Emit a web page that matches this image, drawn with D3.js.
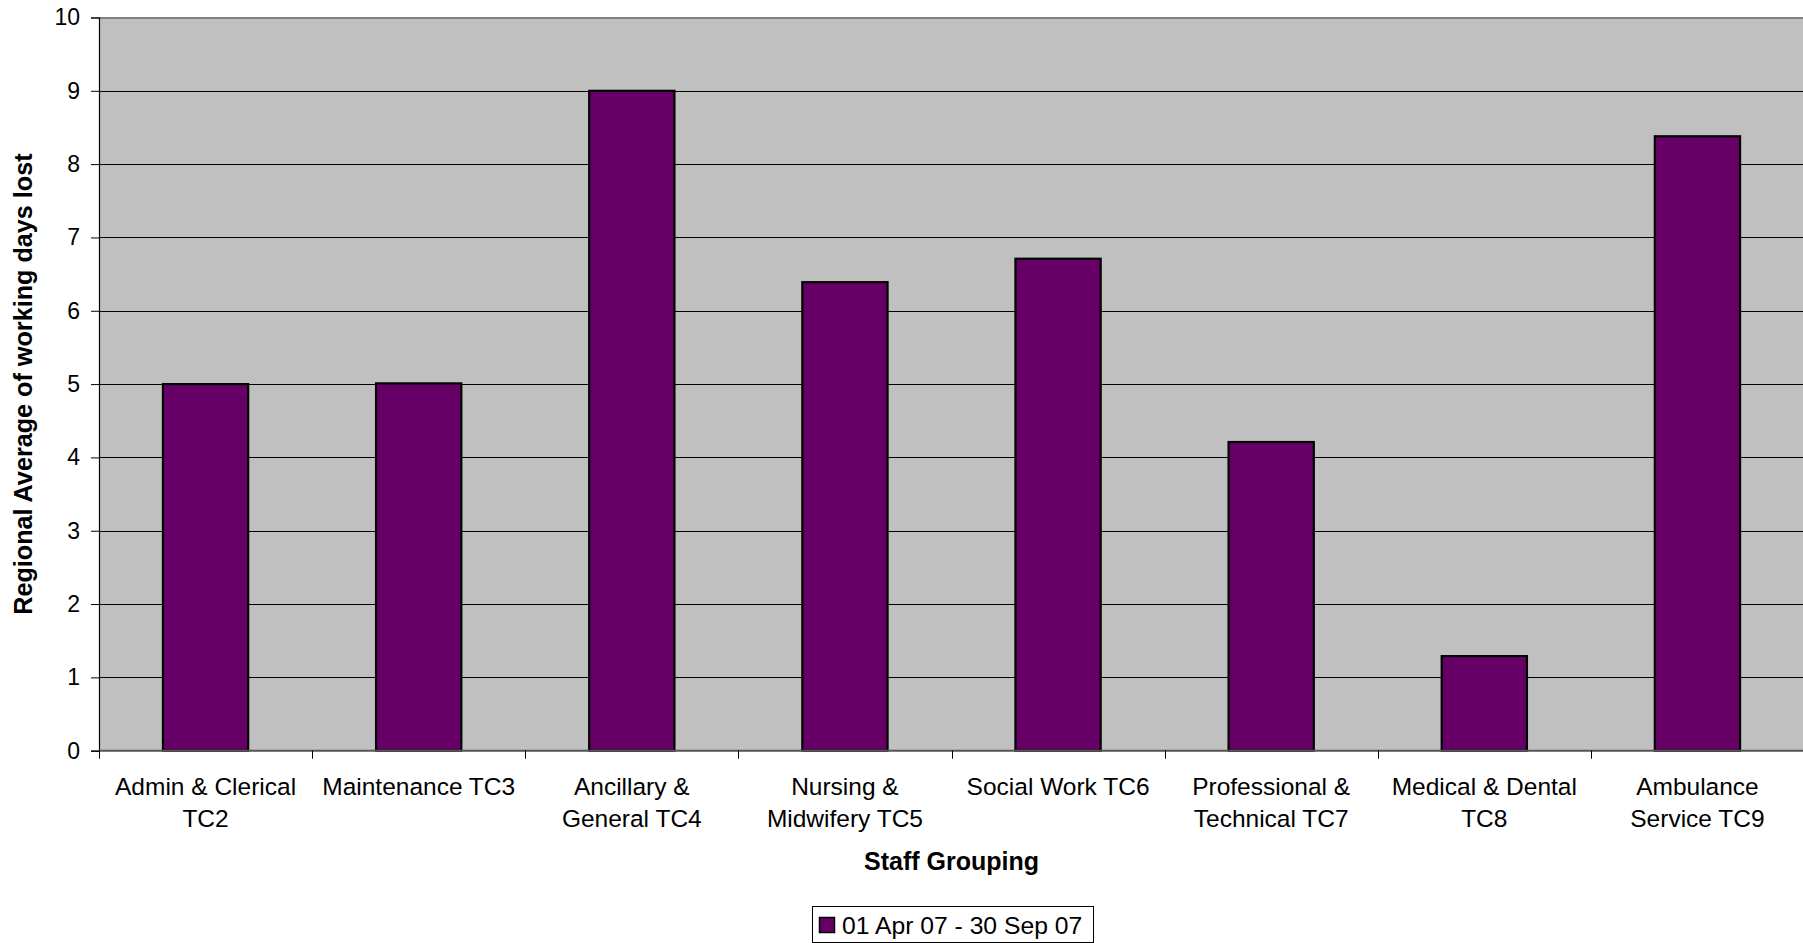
<!DOCTYPE html>
<html>
<head>
<meta charset="utf-8">
<script src="https://cdn.jsdelivr.net/npm/d3@7"></script>
<style>
  html, body { margin: 0; padding: 0; background: #ffffff; }
  svg { display: block; font-family: "Liberation Sans", Arial, sans-serif; }
</style>
</head>
<body>
<svg id="chart" width="1803" height="943"></svg>
<script>
// ---- data ----
const categories = [
  "Admin & Clerical\nTC2",
  "Maintenance TC3",
  "Ancillary &\nGeneral TC4",
  "Nursing &\nMidwifery TC5",
  "Social Work TC6",
  "Professional &\nTechnical TC7",
  "Medical & Dental\nTC8",
  "Ambulance\nService TC9"
];
const values = [5.0, 5.01, 9.0, 6.39, 6.71, 4.21, 1.29, 8.38];
const yTicks = [0, 1, 2, 3, 4, 5, 6, 7, 8, 9, 10];
const seriesName = "01 Apr 07 - 30 Sep 07";
const xTitle = "Staff Grouping";
const yTitle = "Regional Average of working days lost";

// ---- layout ----
const svg = d3.select("#chart");
const plot = { left: 99, right: 1804, top: 17.5, bottom: 750.7 };
const barColor = "#660066";

const x = d3.scaleBand()
  .domain(categories)
  .range([plot.left, plot.right])
  .paddingInner(0.6)
  .paddingOuter(0.3);

const y = d3.scaleLinear().domain([0, 10]).range([plot.bottom, plot.top]);

// plot background
svg.append("rect")
  .attr("x", plot.left).attr("y", plot.top)
  .attr("width", plot.right - plot.left).attr("height", plot.bottom - plot.top)
  .attr("fill", "#c0c0c0");

// gridlines
svg.append("g")
  .selectAll("line")
  .data(yTicks.filter(d => d > 0 && d < 10))
  .join("line")
  .attr("x1", plot.left).attr("x2", plot.right)
  .attr("y1", d => Math.round(y(d)) + 0.5).attr("y2", d => Math.round(y(d)) + 0.5)
  .attr("stroke", "#000").attr("stroke-width", 1);

// top border
svg.append("line")
  .attr("x1", plot.left).attr("x2", plot.right)
  .attr("y1", plot.top + 0.5).attr("y2", plot.top + 0.5)
  .attr("stroke", "#808080").attr("stroke-width", 2);

// bars
svg.append("g")
  .selectAll("rect")
  .data(categories.map((c, i) => ({ c, v: values[i] })))
  .join("rect")
  .attr("x", d => x(d.c))
  .attr("y", d => y(d.v))
  .attr("width", x.bandwidth())
  .attr("height", d => y(0) - y(d.v))
  .attr("fill", barColor)
  .attr("stroke", "#000")
  .attr("stroke-width", 2.2);

// y axis
const yAxis = d3.axisLeft(y).tickValues(yTicks).tickSize(8).tickPadding(11).tickFormat(d3.format("d"));
const gy = svg.append("g").attr("transform", `translate(${plot.left},0)`).call(yAxis);
gy.select(".domain").attr("stroke", "#000").attr("stroke-width", 1.2);
gy.selectAll(".tick line").attr("stroke", "#000").attr("stroke-width", 1);
gy.selectAll(".tick text")
  .attr("font-size", 23)
  .attr("font-family", "'Liberation Sans', Arial, sans-serif")
  .attr("fill", "#000");

// x axis (baseline + boundary ticks)
const step = x.step();
const boundaries = d3.range(categories.length).map(i => x(categories[i]) - x.paddingOuter() * step);
svg.append("line")
  .attr("x1", plot.left).attr("x2", plot.right)
  .attr("y1", plot.bottom).attr("y2", plot.bottom)
  .attr("stroke", "#555").attr("stroke-width", 2);
svg.append("g")
  .selectAll("line")
  .data(boundaries)
  .join("line")
  .attr("x1", d => Math.round(d) + 0.5).attr("x2", d => Math.round(d) + 0.5)
  .attr("y1", plot.bottom).attr("y2", plot.bottom + 8)
  .attr("stroke", "#000").attr("stroke-width", 1);

// category labels
const catG = svg.append("g");
categories.forEach(c => {
  const lines = c.split("\n");
  const t = catG.append("text")
    .attr("x", x(c) + x.bandwidth() / 2)
    .attr("y", 795)
    .attr("text-anchor", "middle")
    .attr("font-size", 24.5)
    .attr("fill", "#000");
  lines.forEach((ln, i) => {
    t.append("tspan").attr("x", x(c) + x.bandwidth() / 2).attr("dy", i === 0 ? 0 : 32).text(ln);
  });
});

// axis titles
svg.append("text")
  .attr("x", (plot.left + plot.right) / 2)
  .attr("y", 870)
  .attr("text-anchor", "middle")
  .attr("font-size", 25)
  .attr("font-weight", "bold")
  .text(xTitle);

svg.append("text")
  .attr("transform", `translate(32, ${(plot.top + plot.bottom) / 2}) rotate(-90)`)
  .attr("text-anchor", "middle")
  .attr("font-size", 25.2)
  .attr("font-weight", "bold")
  .text(yTitle);

// legend
const lg = svg.append("g");
lg.append("rect")
  .attr("x", 812.5).attr("y", 906.5).attr("width", 281).attr("height", 36)
  .attr("fill", "#fff").attr("stroke", "#000").attr("stroke-width", 1);
lg.append("rect")
  .attr("x", 819.5).attr("y", 917.5).attr("width", 15).attr("height", 15)
  .attr("fill", barColor).attr("stroke", "#000").attr("stroke-width", 1.5);
lg.append("text")
  .attr("x", 842).attr("y", 934)
  .attr("font-size", 24.7)
  .attr("fill", "#000")
  .text(seriesName);
</script>
</body>
</html>
